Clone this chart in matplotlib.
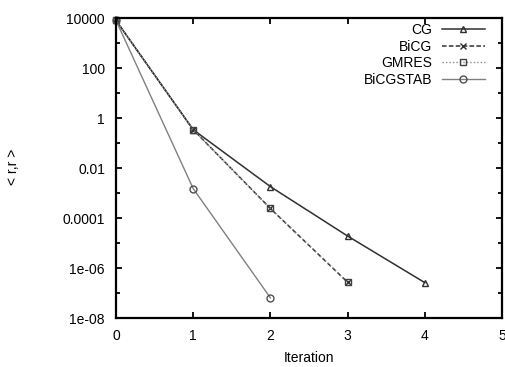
import matplotlib
matplotlib.use("Agg")
import matplotlib.pyplot as plt
from matplotlib.ticker import FixedLocator, NullFormatter

plt.rcParams['font.family'] = ['Liberation Sans', 'DejaVu Sans']

# residual norms per iteration
iter_cg = [0, 1, 2, 3, 4]
res_cg = [8000, 0.34, 0.0018, 1.9e-5, 2.6e-7]

iter_bicg = [0, 1, 2, 3]
res_bicg = [8000, 0.34, 2.4e-4, 2.7e-7]

iter_gmres = [0, 1, 2, 3]
res_gmres = [8000, 0.34, 2.4e-4, 2.7e-7]

iter_bicgstab = [0, 1, 2]
res_bicgstab = [8000, 0.0015, 6.4e-8]

ytick_vals = [1e4, 100, 1, 0.01, 0.0001, 1e-6, 1e-8]
ytick_labels = ["10000", "100", "1", "0.01", "0.0001", "1e-06", "1e-08"]
yminor_vals = [1e3, 10, 0.1, 1e-3, 1e-5, 1e-7]
xtick_vals = [0, 1, 2, 3, 4, 5]

fig = plt.figure(figsize=(5.05, 3.67), dpi=100)
ax = fig.add_axes([116 / 505, 49 / 367, 386 / 505, 300 / 367])

ax.plot(iter_cg, res_cg, color="#303030", lw=1.1, ls="-",
        marker="^", ms=5, mfc="none", mew=1.0, label="CG", clip_on=False)
ax.plot(iter_bicg, res_bicg, color="#303030", lw=1.1, ls=(0, (3, 1.5)),
        marker="x", ms=5, mew=1.0, label="BiCG", clip_on=False)
ax.plot(iter_gmres, res_gmres, color="#8a8a8a", lw=1.0, ls=(0, (1, 1.5)),
        marker="s", ms=5, mfc="none", mew=1.0, mec="#404040",
        label="GMRES", clip_on=False)
ax.plot(iter_bicgstab, res_bicgstab, color="#808080", lw=1.0, ls="-",
        marker="o", ms=5, mfc="none", mew=1.0, mec="#505050",
        label="BiCGSTAB", clip_on=False)

ax.set_yscale("log")
ax.set_xlim(0, 5)
ax.set_ylim(1e-8, 1e4)

ax.yaxis.set_major_locator(FixedLocator(ytick_vals))
ax.set_yticklabels(ytick_labels)
ax.yaxis.set_minor_locator(FixedLocator(yminor_vals))
ax.yaxis.set_minor_formatter(NullFormatter())
ax.set_xticks(xtick_vals)
ax.set_xticklabels([str(v) for v in xtick_vals])

ax.tick_params(which="both", direction="in", top=True, right=True,
               width=1.3, labelsize=10, colors="black")
ax.tick_params(which="major", length=4)
ax.tick_params(which="minor", length=3)
ax.tick_params(axis="x", pad=8)
ax.tick_params(axis="y", pad=8)

for s in ax.spines.values():
    s.set_linewidth(1.6)

ax.set_xlabel("Iteration", fontsize=10)
ax.set_ylabel("< r,r >", fontsize=10)
ax.xaxis.set_label_coords(0.5, -0.11)
ax.yaxis.set_label_coords(-0.249, 0.503)

# gnuplot-style key: text right-aligned, sample on the right
ax.legend(loc="upper right", bbox_to_anchor=((485 - 116) / 386, 0.983),
          frameon=False, markerfirst=False, fontsize=10,
          handlelength=3.1, handletextpad=0.7, labelspacing=0.18,
          borderaxespad=0.0, borderpad=0.0)

fig.savefig("out.png", dpi=100)
